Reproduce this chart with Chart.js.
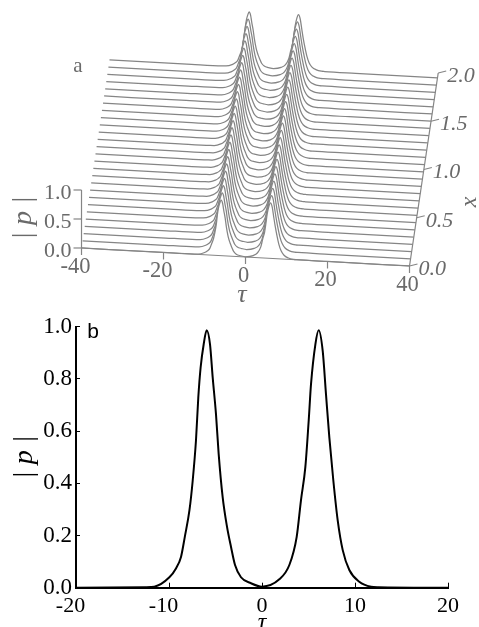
<!DOCTYPE html>
<html>
<head>
<meta charset="utf-8">
<script src="https://cdn.jsdelivr.net/npm/chart.js@4"></script>
<style>
  html, body { margin: 0; background: #fff; overflow: hidden; }
  canvas { position: absolute; left: 0; display: block; }
  #waterfall { top: 0; filter: blur(0.45px); }
  #profile { top: 305px; filter: blur(0.25px); }
</style>
</head>
<body>
<canvas id="waterfall" width="479" height="305"></canvas>
<canvas id="profile" width="479" height="322"></canvas>
<script>
// profile
const tau = [-20, -12.5, -11.58, -9.96, -9.25, -8.71, -8.3, -7.8, -7.45, -7.1, -6.85, -6.6, -6.27, -5.95,
  -5.59, -5.3, -4.95, -4.66, -4.23, -3.76, -3.33, -2.9, -2.26, -1.18, 0,
  1.86, 2.94, 3.73, 4.19, 4.66, 5.02, 5.27, 5.74, 6.09, 6.53, 6.88, 7.24, 7.67, 8.14, 8.68, 9.39, 10.46, 11.72, 12.5, 20];
const amplitude = [0, 0.002, 0.004, 0.04, 0.074, 0.118, 0.195, 0.297, 0.411, 0.564, 0.729, 0.844, 0.933, 0.987,
  0.933, 0.805, 0.666, 0.513, 0.347, 0.233, 0.156, 0.087, 0.04, 0.017, 0.004,
  0.032, 0.087, 0.195, 0.335, 0.462, 0.64, 0.78, 0.933, 0.987, 0.907, 0.742, 0.576, 0.411, 0.258, 0.144, 0.068, 0.023, 0.004, 0.002, 0];

// panel a: propagation distances of the drawn traces, front to back
const xRows = [0, 0.075, 0.15, 0.225, 0.3, 0.375, 0.45, 0.525, 0.6, 0.675, 0.75, 0.825, 0.9,
  0.975, 1.05, 1.125, 1.2, 1.275, 1.35, 1.425, 1.5, 1.575, 1.65, 1.725, 1.8, 1.875, 1.95];

const tauTicksA = [-40, -20, 0, 20, 40];
const xTicksA = [0, 0.5, 1, 1.5, 2];
const pTicksA = [0, 0.5, 1];

const GREY = "#858585";
const TEXT_GREY = "#6a6a6a";
const SERIF = '"Liberation Serif", serif';

// oblique projection of (tau, x, p) into the flat scales of panel a
const project = (t, x, p) => ({
  x: t + x * 3.5,
  y: p + x * 1.664 - (t + 40) * 0.00388,
});

// traces in panel a peak a little under the 1.0 tick
const PEAK_A = 0.97;

const waterfallSets = xRows.map((row) => ({
  data: [-40].concat(tau, [40]).map((t, i) => {
    const p = i === 0 || i === tau.length + 1 ? 0 : amplitude[i - 1] * PEAK_A;
    return project(t, row, p);
  }),
  borderColor: GREY,
  borderWidth: 1.25,
  backgroundColor: "#fff",
  fill: "start",
  pointRadius: 0,
  cubicInterpolationMode: "monotone",
}));

// the axes of panel a are oblique so the scales can't draw them
const obliqueAxes = {
  id: "obliqueAxes",
  afterDatasetsDraw(chart) {
    const { ctx, scales } = chart;
    const pos = (t, x, p) => {
      const q = project(t, x, p);
      return [scales.x.getPixelForValue(q.x), scales.y.getPixelForValue(q.y)];
    };
    const seg = (a, b) => {
      ctx.beginPath();
      ctx.moveTo(a[0], a[1]);
      ctx.lineTo(b[0], b[1]);
      ctx.stroke();
    };
    const label = (text, at, dx, dy, align, font) => {
      ctx.font = font;
      ctx.textAlign = align;
      ctx.fillText(text, at[0] + dx, at[1] + dy);
    };

    ctx.save();
    ctx.strokeStyle = GREY;
    ctx.fillStyle = TEXT_GREY;
    ctx.lineWidth = 1.2;
    ctx.textBaseline = "middle";

    seg(pos(-40, 0, 0), pos(40, 0, 0));
    seg(pos(40, 0, 0), pos(40, 2, 0));
    seg(pos(-40, 0, 0), pos(-40, 0, 1));

    tauTicksA.forEach((t) => {
      const a = pos(t, 0, 0);
      seg(a, [a[0], a[1] + 7]);
      label(String(t), a, t < 0 ? -6 : -2, 19, "center", "22.5px " + SERIF);
    });
    pTicksA.forEach((p) => {
      const a = pos(-40, 0, p);
      seg(a, [a[0] - 8, a[1]]);
      label(p.toFixed(1), a, -10, 3, "right", "22px " + SERIF);
    });
    xTicksA.forEach((x) => {
      const a = pos(40, x, 0);
      seg(a, [a[0] + 8, a[1] - 2]);
      label(x.toFixed(1), a, 9, 3, "left", "italic 22px " + SERIF);
    });

    label("a", [78, 66], 0, 0, "center", "21px " + SERIF);
    label("τ", [242, 295], 0, 0, "center", "italic 26px " + SERIF);

    ctx.save();
    ctx.translate(470, 202);
    ctx.rotate(-Math.PI / 2);
    label("x", [0, 0], 0, 0, "center", "italic 24px " + SERIF);
    ctx.restore();

    ctx.save();
    ctx.translate(24, 218);
    ctx.rotate(-Math.PI / 2);
    label("| p |", [0, 0], 0, 0, "center", "italic 28px " + SERIF);
    ctx.restore();

    ctx.restore();
  },
};

new Chart(document.getElementById("waterfall"), {
  type: "line",
  data: { datasets: waterfallSets },
  options: {
    responsive: false,
    animation: false,
    parsing: false,
    layout: { padding: 0 },
    plugins: { legend: { display: false }, tooltip: { enabled: false } },
    scales: {
      x: { type: "linear", display: false, min: -59.88, max: 56.95 },
      y: { type: "linear", display: false, min: -0.983, max: 4.276 },
    },
  },
  plugins: [obliqueAxes],
});

const panelLabel = {
  id: "panelLabel",
  afterDraw(chart) {
    const { ctx } = chart;
    ctx.save();
    ctx.fillStyle = "#000";
    ctx.font = '21px "Liberation Sans", sans-serif';
    ctx.textAlign = "center";
    ctx.textBaseline = "middle";
    ctx.fillText("b", 93, 27);
    ctx.restore();
  },
};

new Chart(document.getElementById("profile"), {
  type: "line",
  data: {
    labels: tau,
    datasets: [{
      data: tau.map((t, i) => ({ x: t, y: amplitude[i] })),
      borderColor: "#000",
      borderWidth: 2,
      pointRadius: 0,
      cubicInterpolationMode: "monotone",
      fill: false,
    }],
  },
  options: {
    responsive: false,
    animation: false,
    layout: { padding: { top: 20.7, right: 31, left: 0, bottom: 0 } },
    plugins: { legend: { display: false }, tooltip: { enabled: false } },
    scales: {
      x: {
        type: "linear",
        min: -20,
        max: 20,
        afterFit: (s) => { s.height = 39.3; },
        border: { display: true, color: "#000", width: 2 },
        grid: { drawOnChartArea: false, drawTicks: true, tickLength: -5, color: "#000", lineWidth: 1 },
        // trailing spaces pull the negative labels left of their ticks, as in the print
        ticks: { stepSize: 10, color: "#000", maxRotation: 0, padding: 10, callback: (v) => (v < 0 ? v + "  " : String(v)), font: { family: SERIF, size: 22 } },
        title: { display: true, text: "τ", color: "#000", font: { family: SERIF, size: 24, style: "italic" }, padding: { top: 0, bottom: -10 } },
      },
      y: {
        type: "linear",
        min: 0,
        max: 1,
        afterFit: (s) => { s.width = 76; },
        border: { display: true, color: "#000", width: 2 },
        grid: { drawOnChartArea: false, drawTicks: true, tickLength: -4, color: "#000", lineWidth: 1 },
        ticks: { stepSize: 0.2, color: "#000", padding: 8, callback: (v) => v.toFixed(1), font: { family: SERIF, size: 23 } },
        title: { display: true, text: "| p |", color: "#000", font: { family: SERIF, size: 28, style: "italic" }, padding: { top: 8, bottom: 0 } },
      },
    },
  },
  plugins: [panelLabel],
});
</script>
</body>
</html>
